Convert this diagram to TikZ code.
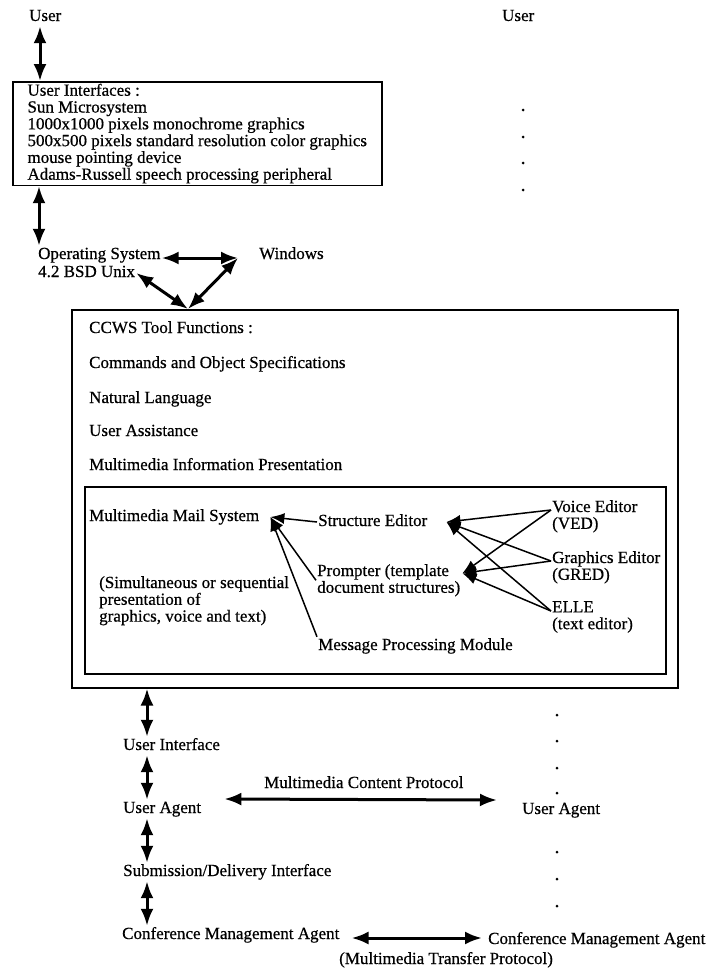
\documentclass[tikz,border=0pt]{standalone}
\usepackage{fontspec}
\setmainfont[FakeBold=0.6]{Liberation Serif}
\usetikzlibrary{arrows.meta,calc,positioning}

\begin{document}
\begin{tikzpicture}[x=1pt,y=-1pt,
 every node/.style={font=\fontsize{17}{16.8}\selectfont,inner sep=1pt},
 lbl/.style={anchor=base west,text height=12pt,text depth=4pt},
 stack/.style={anchor=north west,align=left},
 frame/.style={draw=black,line width=1.5pt,anchor=north west},
 dbl/.style={{Latex[length=17pt,width=13pt]}-{Latex[length=17pt,width=13pt]},line width=3pt},
 feed/.style={-{Latex[length=14pt,width=11pt]},line width=1.5pt}]
\useasboundingbox (0,0) rectangle (708,972);
% top of the stack
\node[lbl] (user) at (28,21) {User};
\node[lbl] (userR) at (501,21) {User};
\node[frame,align=left,minimum width=369pt,inner xsep=13pt,inner ysep=2pt] (uibox) at (12,81)
 {User Interfaces :\\Sun Microsystem\\1000x1000 pixels monochrome graphics\\500x500 pixels standard resolution color graphics\\mouse pointing device\\Adams-Russell speech processing peripheral};
\node[lbl] (os) at (37,259) {Operating System};
\node[lbl] (bsd) at (37,277) {4.2 BSD Unix};
\node[lbl] (windows) at (258,259) {Windows};
% tool box
\node[frame,minimum width=606pt,minimum height=378pt] (ccws) at (71,309) {};
\node[lbl] (tools) at (88,333) {CCWS Tool Functions :};
\node[lbl] (cmds) at (88,368) {Commands and Object Specifications};
\node[lbl] (natlang) at (88,403) {Natural Language};
\node[lbl] (assist) at (88,436) {User Assistance};
\node[lbl] (mip) at (88,470) {Multimedia Information Presentation};
% mail system
\node[frame,minimum width=581pt,minimum height=187pt] (mail) at (84,486) {};
\node[lbl] (mms) at (88,521) {Multimedia Mail System};
\node[lbl] (sed) at (317,526) {Structure Editor};
\node[stack] (prm) at (316,563) {Prompter (template\\document structures)};
\node[stack] (sim) at (98,575) {(Simultaneous or sequential\\presentation of\\graphics, voice and text)};
\node[lbl] (mpm) at (317,650) {Message Processing Module};
\node[stack] (ved) at (551,499) {Voice Editor\\(VED)};
\node[stack] (gred) at (551,550) {Graphics Editor\\(GRED)};
\node[stack] (elle) at (551,600) {ELLE\\(text editor)};
% bottom of the stack
\node[lbl] (uif) at (122,750) {User Interface};
\node[lbl] (ua) at (122,813) {User Agent};
\node[lbl] (sdi) at (122,876) {Submission/Delivery Interface};
\node[lbl] (cma) at (121,939) {Conference Management Agent};
\node[lbl] (mcp) at (263,788) {Multimedia Content Protocol};
\node[lbl] (uaR) at (521,814) {User Agent};
\node[lbl] (cmaR) at (487,944) {Conference Management Agent};
\node[lbl] (mtp) at (338,964) {(Multimedia Transfer Protocol)};
\coordinate (wv) at ([xshift=-20pt,yshift=-3pt]windows.west);
\coordinate (cv) at ([xshift=117pt]ccws.north west);
\coordinate (mmsin) at ([xshift=10pt]mms.east);
\coordinate (sedin) at ([xshift=18pt]sed.east);
\coordinate (prmin) at ([xshift=1pt,yshift=7pt]prm.east);
% other ends
\fill (523,110) circle (1.5pt) (523,137) circle (1.5pt) (523,163) circle (1.5pt) (523,190) circle (1.5pt);
\fill (557,715) circle (1.5pt) (557,741) circle (1.5pt) (557,768) circle (1.5pt) (557,793) circle (1.5pt)
 (557,852) circle (1.5pt) (557,879) circle (1.5pt) (557,906) circle (1.5pt);
\draw[dbl] ([xshift=12pt]user.south west) -- ([xshift=12pt]user.south west |- uibox.north);
\draw[dbl] ([xshift=2pt]os.north west) -- ([xshift=2pt]os.north west |- uibox.south);
\draw[dbl] ([yshift=-3pt]os.east) -- (wv);
\draw[dbl] (bsd.east) -- (cv);
\draw[dbl] (wv) -- (cv);
\draw[feed] (sed.west) -- (mmsin);
\draw[feed] (prm.west) -- (mmsin);
\draw[feed] (mpm.north west) -- (mmsin);
\draw[feed] ([yshift=-11pt]ved.north west) -- (sedin);
\draw[feed] ([yshift=-11pt]gred.north west) -- (sedin);
\draw[feed] ([yshift=-11pt]elle.north west) -- (sedin);
\draw[feed] ([yshift=-11pt]ved.north west) -- (prmin);
\draw[feed] ([yshift=-11pt]gred.north west) -- (prmin);
\draw[feed] ([yshift=-11pt]elle.north west) -- (prmin);
\draw[dbl] ([xshift=25pt]uif.north west) -- ([xshift=25pt]uif.north west |- ccws.south);
\draw[dbl] ([xshift=25pt]uif.south west) -- ([xshift=25pt]ua.north west);
\draw[dbl] ([xshift=25pt]ua.south west) -- ([xshift=25pt]sdi.north west);
\draw[dbl] ([xshift=25pt]sdi.south west) -- ([xshift=26pt]cma.north west);
\draw[dbl] ([xshift=22pt,yshift=10pt]ua.east) -- ([xshift=-24pt,yshift=10pt]uaR.west);
\draw[dbl] ([xshift=11pt,yshift=-3pt]cma.east) -- ([xshift=-5pt,yshift=2pt]cmaR.west);
\end{tikzpicture}
\end{document}
